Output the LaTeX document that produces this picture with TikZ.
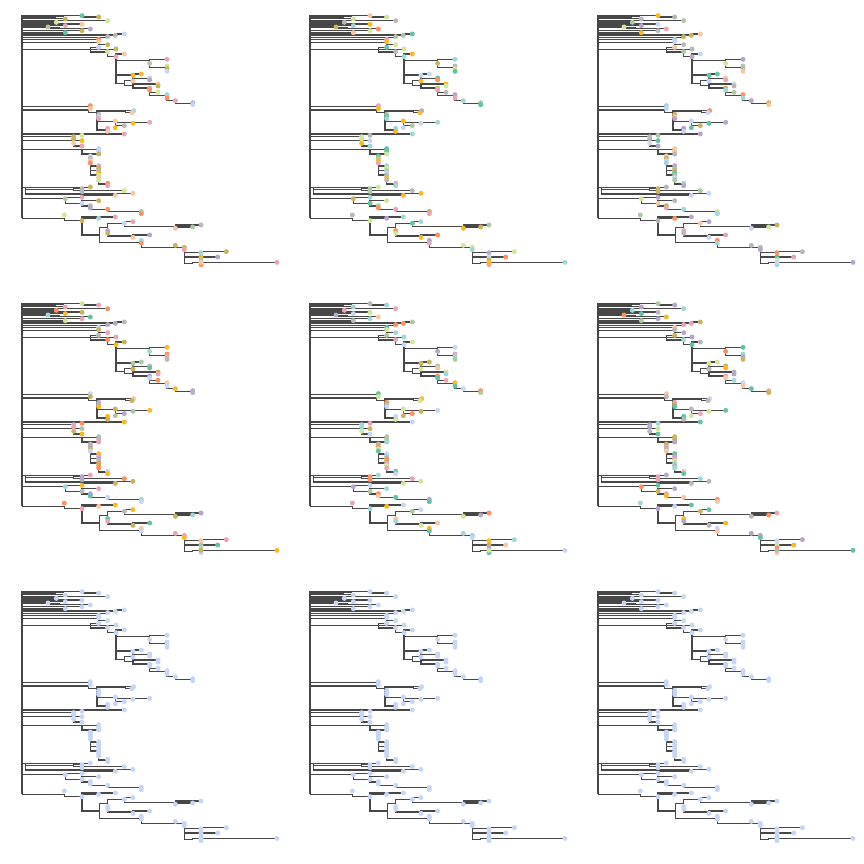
\documentclass[tikz,border=0pt]{standalone}
\usepackage{tikz}
\definecolor{tc0}{HTML}{66C2A5}
\definecolor{tc1}{HTML}{B7A6CC}
\definecolor{tc2}{HTML}{C8B45E}
\definecolor{tc3}{HTML}{F6C8A4}
\definecolor{tc4}{HTML}{FC9060}
\definecolor{tc5}{HTML}{D0E79A}
\definecolor{tc6}{HTML}{F8BC22}
\definecolor{tc7}{HTML}{E8A6B8}
\definecolor{tc8}{HTML}{B8B8B8}
\definecolor{tc9}{HTML}{C6D6F4}
\definecolor{tc10}{HTML}{9FD8D6}
\definecolor{tc11}{HTML}{AFC8A4}
\definecolor{lb}{HTML}{C6D6F4}
\newif\ifbluerow
\tikzset{br/.style={draw=black!72,line width=1.1pt}}
\newcommand\BrOn[4]{\draw[br] (#1,#2) |- (#3,#4);}
\newcommand\TpOn[3]{\ifbluerow\fill[lb] (#1,#2) circle[radius=2.5pt];\else
 \pgfmathtruncatemacro\ci{mod(#3*\pmul+\pshift,12)}\fill[tc\ci] (#1,#2) circle[radius=2.5pt];\fi}
\newcommand\gobthree[3]{}
\newcommand\gobfour[4]{}
\newcommand\treebody{%
% top cluster
\Br{25}{17}{205}{17} \Tp{205}{17}{0}
\Br{205}{17}{255}{21} \Tp{255}{21}{2}
\Br{25}{20}{150}{20}
\Br{25}{23}{128}{23}
\Br{25}{26}{155}{26} \Tp{155}{27}{2}
\Br{25}{31}{282}{31} \Tp{282}{32}{5}
\Br{25}{33}{110}{33}
\Br{25}{36}{128}{36} \Tp{128}{37}{5}
\Br{25}{40}{205}{42} \Tp{205}{43}{3}
\Br{25}{45}{155}{45} \Tp{155}{47}{7}
\Br{25}{50}{103}{50} \Tp{103}{51}{11}
\Br{25}{53}{140}{53}
\Br{103}{50}{230}{56} \Tp{230}{57}{1}
\Br{25}{60}{205}{61} \Tp{205}{62}{2}
\Br{25}{65}{155}{67} \Tp{155}{68}{0}
\Br{25}{69}{160}{69}
\Br{25}{71}{305}{75} \Tp{305}{76}{8}
\Br{305}{75}{332}{72} \Tp{332}{72}{9}
% next group
\Br{25}{82}{282}{82} \Tp{282}{80}{8}
\Br{25}{88}{255}{88} \Tp{255}{88}{4} \Tp{255}{95}{3}
\Br{25}{98}{255}{98}
\Br{255}{98}{282}{104} \Tp{282}{104}{2}
\Br{25}{118}{230}{118}
\Br{230}{118}{255}{112} \Tp{255}{112}{9}
\Br{230}{118}{307}{118} \Tp{307}{117}{2}
\Br{230}{118}{282}{126} \Tp{282}{125}{5}
\Br{282}{126}{307}{140} \Tp{307}{140}{7}
\Br{307}{140}{332}{132} \Tp{332}{132}{3}
% subclade A2
\Br{307}{140}{408}{152}
\Br{408}{152}{460}{148} \Tp{460}{148}{7}
\Tp{408}{160}{11}
\Br{408}{152}{460}{172} \Tp{460}{168}{5} \Tp{460}{176}{2} \Tp{460}{184}{9}
\Br{307}{140}{358}{195} \Tp{358}{196}{6}
\Br{358}{195}{383}{192} \Tp{383}{192}{6}
\Br{358}{195}{408}{205} \Tp{408}{204}{9} \Tp{408}{210}{1}
\Br{307}{140}{332}{220}
\Br{332}{220}{358}{212} \Tp{358}{213}{3}
\Br{332}{220}{358}{226}
\Br{358}{226}{433}{222} \Tp{433}{222}{3} \Tp{433}{228}{2}
\Br{358}{226}{408}{234} \Tp{408}{234}{8} \Tp{408}{240}{4}
\Br{408}{234}{433}{248} \Tp{433}{247}{5}
\Br{408}{234}{460}{256} \Tp{460}{254}{10} \Tp{460}{264}{4}
\Br{460}{256}{485}{272} \Tp{485}{272}{7}
\Br{485}{272}{537}{280} \Tp{537}{278}{8} \Tp{537}{284}{9}
% clade B
\Br{25}{290}{230}{290} \Tp{230}{287}{4} \Tp{230}{296}{3}
\Br{25}{300}{225}{300}
\Br{225}{300}{250}{308}
\Br{250}{308}{335}{303}
\Br{335}{303}{360}{302} \Tp{360}{302}{10}
\Br{335}{303}{355}{308} \Tp{355}{308}{3}
\Tp{255}{313}{8} \Tp{255}{320}{9} \Tp{255}{326}{7}
\Br{250}{308}{305}{335} \Tp{305}{333}{3}
\Br{305}{335}{408}{338} \Tp{358}{340}{6} \Tp{408}{337}{7}
\Br{305}{335}{332}{347} \Tp{332}{347}{8}
\Tp{305}{353}{6}
\Br{250}{308}{282}{360} \Tp{282}{355}{7} \Tp{282}{364}{3}
% clade C
\Br{25}{372}{332}{372} \Tp{205}{376}{5} \Tp{332}{372}{7}
\Br{25}{380}{180}{380} \Tp{180}{380}{2} \Tp{180}{387}{2}
\Br{25}{392}{180}{392}
\Br{180}{392}{205}{392} \Tp{205}{392}{6}
\Tp{180}{400}{3}
\Br{180}{392}{205}{408} \Tp{205}{408}{7}
\Br{25}{418}{205}{418}
\Br{205}{418}{255}{418} \Tp{255}{416}{9} \Tp{255}{424}{9}
\Br{205}{418}{230}{432}
\Br{230}{432}{255}{432} \Tp{255}{432}{2}
\Br{230}{432}{255}{468}
\Br{230}{468}{255}{481}
\Br{230}{432}{255}{495}
\Tp{230}{438}{9} \Tp{230}{445}{8} \Tp{230}{452}{3} \Tp{230}{459}{4}
\Tp{255}{467}{7} \Tp{255}{475}{2} \Tp{255}{482}{8} \Tp{255}{489}{6} \Tp{255}{496}{5} \Tp{255}{503}{3} \Tp{255}{510}{5}
\Br{255}{495}{282}{522} \Tp{282}{520}{4} \Tp{282}{527}{7}
% clade D
\Br{25}{532}{230}{532} \Tp{230}{531}{2}
\Br{35}{532}{35}{548}
\Br{35}{538}{180}{538}
\Br{180}{538}{205}{536} \Tp{205}{536}{8}
\Br{180}{538}{332}{542} \Tp{205}{545}{8} \Tp{332}{542}{5}
\Br{35}{548}{205}{552}
\Br{205}{552}{358}{550} \Tp{358}{550}{3}
\Br{205}{552}{305}{555} \Tp{305}{556}{3}
\Br{25}{566}{155}{566} \Tp{155}{566}{11}
\Br{155}{566}{205}{562} \Tp{205}{562}{7}
\Br{155}{566}{205}{580}
\Br{205}{580}{255}{572} \Tp{255}{572}{2}
\Tp{205}{580}{9}
\Br{205}{580}{230}{588} \Tp{230}{587}{8} \Tp{230}{594}{1}
\Br{230}{588}{282}{598} \Tp{282}{598}{4}
\Br{282}{598}{383}{605} \Tp{383}{604}{11} \Tp{383}{611}{4}
% clade E
\Br{25}{600}{25}{625}
\Br{25}{625}{152}{625} \Tp{152}{615}{5}
\Br{152}{625}{205}{632} \Tp{205}{632}{2}
\Br{205}{632}{305}{621} \Tp{305}{621}{7}
\Br{205}{632}{255}{625} \Tp{255}{625}{10}
\Br{205}{632}{257}{675}
\Br{257}{675}{282}{652}
\Br{282}{652}{332}{640} \Tp{332}{640}{9}
\Br{332}{640}{358}{635} \Tp{358}{635}{7}
\Br{332}{640}{485}{650} \Tp{485}{655}{3}
\Br{485}{650}{562}{645} \Tp{562}{645}{8}
\Br{485}{650}{537}{651} \Tp{537}{651}{11}
\Tp{282}{662}{1} \Tp{282}{670}{2}
\Br{282}{652}{358}{678} \Tp{358}{682}{3}
\Br{358}{678}{408}{675} \Tp{408}{675}{1}
\Br{257}{675}{383}{698} \Tp{383}{691}{10} \Tp{383}{699}{4}
\Br{383}{698}{485}{712} \Tp{485}{706}{2}
\Br{485}{712}{512}{712} \Tp{512}{712}{2} \Tp{512}{719}{7}
\Br{512}{712}{562}{728} \Tp{562}{728}{10}
\Br{562}{728}{638}{725} \Tp{638}{725}{2}
\Br{512}{712}{612}{741} \Tp{562}{741}{6} \Tp{612}{741}{1}
\Br{512}{712}{537}{760}
\Br{537}{760}{562}{757}
\Tp{562}{750}{11} \Tp{562}{764}{4}
\Br{562}{757}{790}{757} \Tp{562}{757}{3} \Tp{790}{757}{7}
}
\begin{document}
\begin{tikzpicture}
\useasboundingbox (0pt,0pt) rectangle (864pt,-864pt);
\foreach \c in {0,1,2}{
 \foreach \r in {0,1,2}{
  \begin{scope}[shift={(13.67pt+288pt*\c,-10pt-288pt*\r)},x=0.33333pt,y=-0.33333pt]
   \pgfmathtruncatemacro\pshift{3*\c+5*\r}
   \pgfmathtruncatemacro\pmul{\r==0 ? 1 : 7}
   \ifnum\r=2 \global\bluerowtrue\else\global\bluerowfalse\fi
   \draw[br] (25,15) -- (25,600);
   \let\Br\BrOn \let\Tp\gobthree
   \treebody
   \let\Br\gobfour \let\Tp\TpOn
   \treebody
  \end{scope}
 }
}
\end{tikzpicture}
\end{document}
